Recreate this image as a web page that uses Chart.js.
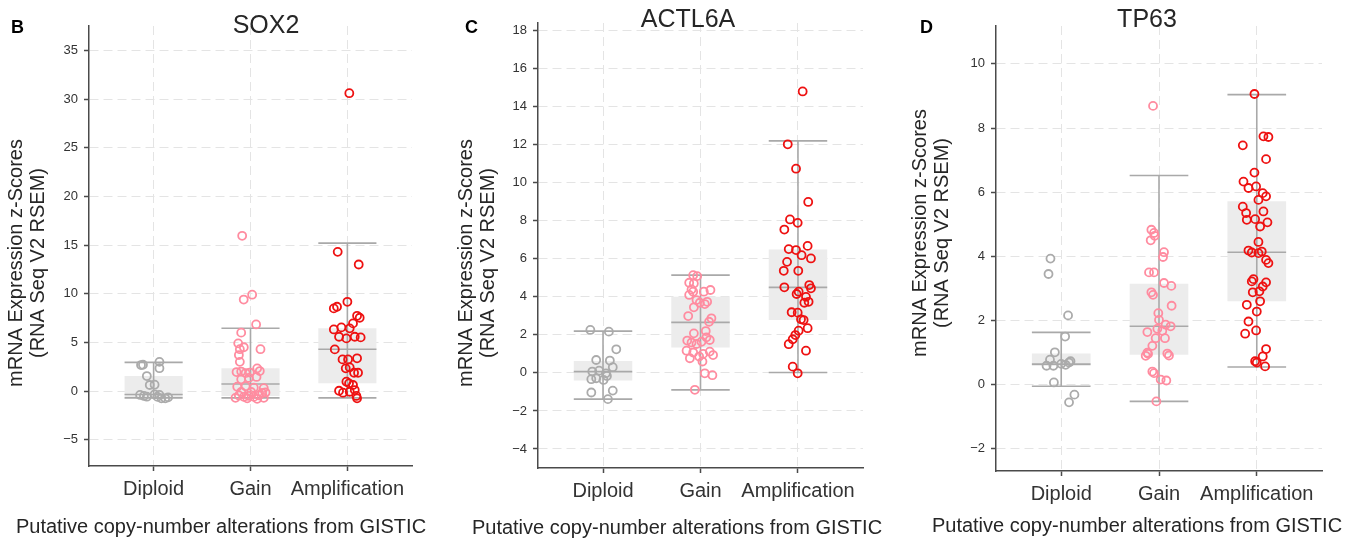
<!DOCTYPE html>
<html>
<head>
<meta charset="utf-8">
<script src="https://cdn.jsdelivr.net/npm/chart.js@4.4.1/dist/chart.umd.min.js"></script>
<style>
  html, body { margin: 0; padding: 0; background: #fff; }
  #wrap { position: relative; width: 1349px; height: 538px; overflow: hidden; }
  .panel { position: absolute; top: 0; height: 538px; }
</style>
</head>
<body>
<div id="wrap">
  <div class="panel" style="left:0;width:450px"><canvas id="chartB" width="450" height="538"></canvas></div>
  <div class="panel" style="left:450px;width:450px"><canvas id="chartC" width="450" height="538"></canvas></div>
  <div class="panel" style="left:900px;width:449px"><canvas id="chartD" width="449" height="538"></canvas></div>
</div>
<script>
// ============================================================
// mRNA z-scores by GISTIC copy-number group — three box plots
// ============================================================

const CATEGORIES = ["Diploid", "Gain", "Amplification"];
const Y_TITLE = ["mRNA Expression z-Scores", "(RNA Seq V2 RSEM)"];
const X_TITLE = "Putative copy-number alterations from GISTIC";

// ---------- SOX2 ----------
const SOX2_TICKS = [-5, 0, 5, 10, 15, 20, 25, 30, 35];
const SOX2_LOW = [-0.7, -0.7, -0.7];
const SOX2_Q1 = [-0.6, -0.5, 0.79];
const SOX2_MED = [-0.35, 0.72, 4.3];
const SOX2_Q3 = [1.54, 2.33, 6.45];
const SOX2_HIGH = [2.95, 6.45, 15.2];
// [jitter, z-score]
const SOX2_DIPLOID = [
  [-0.13, 2.67], [-0.11, 2.7], [0.06, 3.0], [0.06, 2.35], [-0.07, 1.54], [-0.04, 0.62], [0.01, 0.65],
  [-0.14, -0.4], [-0.1, -0.5], [-0.07, -0.58], [0.01, -0.34], [0.06, -0.4], [0.08, -0.75],
  [0.12, -0.75], [0.15, -0.65], [0.04, -0.6]
];
const SOX2_GAIN = [
  [-0.086, 15.95], [-0.07, 9.4], [0.017, 9.9], [0.058, 6.84], [-0.096, 6.0], [-0.127, 4.9], [-0.069, 4.5],
  [-0.11, 4.3], [0.103, 4.3], [-0.12, 3.7], [-0.11, 3.0], [0.069, 2.33], [0.096, 2.05], [-0.144, 1.95],
  [-0.096, 2.0], [-0.05, 1.85], [-0.007, 1.9], [-0.017, 1.35], [0.062, 1.45], [-0.096, 1.2],
  [-0.137, 0.45], [-0.05, 0.5], [0.034, 0.35], [0.137, 0.3], [-0.096, -0.1], [0.007, -0.1],
  [0.12, -0.2], [0.155, -0.15], [-0.12, -0.45], [-0.069, -0.6], [-0.017, -0.5], [0.034, -0.6],
  [0.086, -0.45], [0.137, -0.7], [-0.155, -0.7], [-0.034, -0.75], [0.069, -0.8]
];
const SOX2_AMP = [
  [0.02, 30.6], [-0.1, 14.3], [0.117, 13.0], [0, 9.17], [-0.14, 8.49], [-0.107, 8.66], [0.1, 7.73],
  [0.127, 7.53], [0.058, 6.95], [-0.14, 6.33], [-0.062, 6.54], [0.024, 6.44], [-0.086, 5.58],
  [-0.01, 5.41], [0.076, 5.58], [0.137, 5.51], [-0.13, 4.28], [-0.05, 3.25], [0.007, 3.25],
  [0.1, 3.36], [-0.017, 2.33], [0.024, 2.43], [0.069, 1.88], [0.11, 1.88], [-0.01, 0.96],
  [0.017, 0.79], [0.058, 0.62], [-0.086, 0.03], [-0.045, -0.17], [0.024, -0.07], [0.076, 0.1],
  [0.093, -0.5], [0.1, -0.75]
];

// ---------- ACTL6A ----------
const ACTL6A_TICKS = [-4, -2, 0, 2, 4, 6, 8, 10, 12, 14, 16, 18];
const ACTL6A_LOW = [-1.38, -0.89, 0.02];
const ACTL6A_Q1 = [-0.4, 1.33, 2.78];
const ACTL6A_MED = [0.07, 2.66, 4.5];
const ACTL6A_Q3 = [0.63, 4.0, 6.49];
const ACTL6A_HIGH = [2.2, 5.14, 12.2];
const ACTL6A_DIPLOID = [
  [-0.13, 2.26], [0.06, 2.17], [0.136, 1.24], [-0.07, 0.68], [0.07, 0.65], [0.1, 0.3], [-0.11, 0.07],
  [-0.04, 0.12], [0.03, -0.02], [-0.12, -0.33], [-0.07, -0.28], [0.005, -0.37], [0.04, -0.16],
  [-0.12, -1.03], [0.1, -0.93], [0.05, -1.38]
];
const ACTL6A_GAIN = [
  [-0.075, 5.14], [-0.034, 5.09], [-0.116, 4.74], [-0.068, 4.7], [-0.092, 4.39], [-0.075, 4.27],
  [-0.116, 4.1], [0.034, 4.27], [0.102, 4.36], [-0.041, 3.83], [-0.007, 3.69], [0.068, 3.74],
  [0.044, 3.62], [-0.068, 3.45], [-0.126, 2.99], [0.112, 2.87], [0.088, 2.69], [0.054, 2.2],
  [-0.068, 2.08], [0.061, 1.87], [0.095, 1.73], [-0.136, 1.7], [-0.092, 1.6], [-0.041, 1.52],
  [0.01, 1.64], [-0.143, 1.17], [-0.075, 1.07], [0.027, 1.0], [0.095, 1.12], [0.129, 0.94],
  [-0.109, 0.77], [-0.014, 0.86], [0.02, 0.6], [0.044, -0.02], [0.122, -0.12], [-0.058, -0.89]
];
const ACTL6A_AMP = [
  [0.048, 14.8], [-0.105, 12.02], [-0.02, 10.74], [0.105, 8.99], [-0.082, 8.07], [-0.003, 7.89],
  [-0.14, 7.54], [0.099, 6.68], [-0.095, 6.51], [-0.02, 6.46], [0.037, 6.19], [0.133, 6.02],
  [-0.112, 5.84], [-0.146, 5.37], [0.003, 5.37], [-0.14, 4.5], [0.116, 4.62], [0.133, 4.45],
  [0.007, 4.27], [-0.014, 4.15], [0.082, 4.0], [0.065, 3.69], [0.109, 3.74], [-0.065, 3.19],
  [-0.003, 3.17], [0.031, 2.82], [0.058, 2.78], [0.099, 2.35], [0.007, 2.22], [-0.027, 1.99],
  [-0.054, 1.77], [-0.095, 1.51], [0.082, 1.17], [-0.054, 0.33], [-0.003, -0.02]
];

// ---------- TP63 ----------
const TP63_TICKS = [-2, 0, 2, 4, 6, 8, 10];
const TP63_LOW = [-0.05, -0.52, 0.55];
const TP63_Q1 = [0.58, 0.93, 2.6];
const TP63_MED = [0.64, 1.82, 4.13];
const TP63_Q3 = [0.97, 3.15, 5.72];
const TP63_HIGH = [1.63, 6.52, 9.04];
const TP63_DIPLOID = [
  [-0.11, 3.93], [-0.13, 3.45], [0.07, 2.16], [0.04, 1.5], [-0.065, 1.01], [-0.115, 0.78],
  [-0.15, 0.59], [-0.08, 0.59], [0, 0.65], [0.045, 0.62], [0.08, 0.69], [0.095, 0.73],
  [-0.075, 0.07], [0.135, -0.31], [0.08, -0.55]
];
const TP63_GAIN = [
  [-0.061, 8.69], [-0.078, 4.83], [-0.051, 4.73], [-0.085, 4.5], [-0.044, 4.64], [0.051, 4.13],
  [0.041, 3.98], [-0.102, 3.5], [-0.051, 3.5], [0.051, 3.17], [0.126, 3.08], [-0.078, 2.88],
  [-0.061, 2.8], [0.129, 2.46], [-0.007, 2.23], [0, 2.02], [-0.119, 1.64], [-0.017, 1.74],
  [0.068, 1.87], [0.119, 1.82], [0.034, 1.68], [-0.034, 1.45], [0.061, 1.45], [-0.068, 1.21],
  [-0.119, 1.0], [-0.136, 0.9], [-0.112, 0.96], [0.085, 0.97], [0.102, 0.91], [-0.068, 0.41],
  [-0.051, 0.36], [0.017, 0.16], [0.075, 0.13], [-0.027, -0.52]
];
const TP63_AMP = [
  [-0.024, 9.06], [-0.143, 7.46], [0.068, 7.74], [0.119, 7.72], [0.095, 7.03], [-0.024, 6.61],
  [-0.136, 6.33], [-0.085, 6.13], [-0.007, 6.18], [0.061, 5.97], [0.095, 5.87], [0.017, 5.76],
  [-0.143, 5.55], [-0.109, 5.35], [-0.102, 5.14], [-0.017, 5.16], [0.034, 4.93], [0.068, 5.4],
  [0.109, 5.06], [0.017, 4.45], [-0.085, 4.18], [-0.051, 4.12], [0.017, 4.1], [0.051, 4.15],
  [0.095, 3.89], [0.119, 3.79], [-0.034, 3.29], [-0.051, 3.22], [0.095, 3.19], [0.061, 3.06],
  [-0.041, 2.88], [0.027, 2.91], [0.034, 2.6], [-0.102, 2.49], [0, 2.28], [-0.085, 1.97],
  [-0.007, 1.69], [-0.119, 1.59], [0.095, 1.11], [0.061, 0.88], [-0.017, 0.73], [0.085, 0.57],
  [0, 0.69]
];

// ---------- Styling ----------
const FONT = '"Liberation Sans", Arial, sans-serif';
const POINT_COLORS = ["#ababab", "#ff8ca0", "#ee1111"];
const BOX_FILL = "#ececec";
const WHISKER = "#a9a9a9";
const AXIS = "#4a4a4a";
const GRID = "#e4e4e4";
const BOX_HALF = 0.3; // half box width in category units

Chart.defaults.font.family = FONT;

function panelText(p) {
  return {
    id: "panelText",
    afterDraw(chart) {
      const ctx = chart.ctx;
      ctx.save();
      ctx.fillStyle = "#000";
      ctx.textAlign = "left";
      ctx.textBaseline = "alphabetic";
      ctx.font = "bold 18px " + FONT;
      ctx.fillText(p.letter, p.letterX, 33);

      ctx.fillStyle = "#262626";
      ctx.textAlign = "center";
      ctx.font = "25px " + FONT;
      ctx.fillText(p.title, p.titleX, p.titleY);

      ctx.font = "20px " + FONT;
      ctx.textBaseline = "middle";
      ctx.fillText(X_TITLE, p.xTitleX, p.xTitleY);
      Y_TITLE.forEach((line, k) => {
        ctx.save();
        ctx.translate(p.yTitleX[k], p.yTitleY);
        ctx.rotate(-Math.PI / 2);
        ctx.fillText(line, 0, 0);
        ctx.restore();
      });
      ctx.restore();
    }
  };
}

function whiskerSegments(low, q1, med, q3, high) {
  const pts = [];
  CATEGORIES.forEach((c, i) => {
    pts.push({ x: i - BOX_HALF, y: high[i] }, { x: i + BOX_HALF, y: high[i] }, { x: i, y: null });
    pts.push({ x: i, y: high[i] }, { x: i, y: low[i] }, { x: i, y: null });
    pts.push({ x: i - BOX_HALF, y: low[i] }, { x: i + BOX_HALF, y: low[i] }, { x: i, y: null });
    pts.push({ x: i - BOX_HALF, y: med[i] }, { x: i + BOX_HALF, y: med[i] }, { x: i, y: null });
  });
  return pts;
}

function makePanel(canvasId, p) {
  const groups = [p.diploid, p.gain, p.amp];
  const pointSets = groups.map((g, i) => ({
    type: "scatter",
    label: CATEGORIES[i],
    data: g.map(([dx, v]) => ({ x: i + dx, y: v })),
    pointRadius: 4,
    pointHoverRadius: 4,
    pointBorderWidth: 1.8,
    pointBorderColor: POINT_COLORS[i],
    pointBackgroundColor: "rgba(0,0,0,0)",
    order: 0
  }));

  new Chart(document.getElementById(canvasId), {
    type: "scatter",
    data: {
      datasets: [
        ...pointSets,
        {
          type: "line",
          data: whiskerSegments(p.low, p.q1, p.med, p.q3, p.high),
          borderColor: WHISKER,
          borderWidth: 1.6,
          pointRadius: 0,
          spanGaps: false,
          fill: false,
          order: 1
        },
        {
          type: "bar",
          data: CATEGORIES.map((c, i) => ({ x: i, y: [p.q1[i], p.q3[i]] })),
          backgroundColor: BOX_FILL,
          borderWidth: 0,
          categoryPercentage: 1,
          barPercentage: BOX_HALF * 2,
          order: 2
        }
      ]
    },
    options: {
      responsive: false,
      animation: false,
      layout: { padding: p.pad },
      plugins: { legend: { display: false }, tooltip: { enabled: false } },
      scales: {
        x: {
          type: "linear",
          min: -0.667,
          max: 2.667,
          offset: false,
          afterBuildTicks: s => { s.ticks = CATEGORIES.map((c, i) => ({ value: i })); },
          afterFit: s => { s.height = p.xH; },
          ticks: {
            callback: v => CATEGORIES[v],
            color: "#333",
            font: { size: 20 },
            padding: 6,
            maxRotation: 0,
            autoSkip: false
          },
          grid: { offset: false, color: GRID, lineWidth: 1, tickLength: 5, tickColor: AXIS, tickWidth: 1.5 },
          border: { display: true, color: AXIS, width: 1.5, dash: [9, 5] }
        },
        y: {
          type: "linear",
          min: p.yMin,
          max: p.yMax,
          afterBuildTicks: s => { s.ticks = p.ticks.map(v => ({ value: v })); },
          afterFit: s => { s.width = p.yW; },
          ticks: {
            callback: v => String(v).replace("-", "\u2212"),
            color: "#333",
            font: { size: 13 },
            padding: 6
          },
          grid: { color: GRID, lineWidth: 1, tickLength: 5, tickColor: AXIS, tickWidth: 1.5 },
          border: { display: true, color: AXIS, width: 1.5, dash: [9, 5] }
        }
      }
    },
    plugins: [panelText(p)]
  });
}

// ---------- Init ----------
makePanel("chartB", {
  letter: "B", letterX: 11, title: "SOX2", titleX: 266, titleY: 33,
  yTitleX: [16, 38], yTitleY: 263, xTitleX: 221, xTitleY: 527,
  pad: { left: 0, right: 38, top: 26, bottom: 0 }, yW: 89, xH: 72,
  yMin: -7.7, yMax: 37.5, ticks: SOX2_TICKS,
  low: SOX2_LOW, q1: SOX2_Q1, med: SOX2_MED, q3: SOX2_Q3, high: SOX2_HIGH,
  diploid: SOX2_DIPLOID, gain: SOX2_GAIN, amp: SOX2_AMP
});

makePanel("chartC", {
  letter: "C", letterX: 15, title: "ACTL6A", titleX: 238, titleY: 27,
  yTitleX: [16, 38], yTitleY: 263, xTitleX: 227, xTitleY: 528,
  pad: { left: 0, right: 37, top: 23, bottom: 0 }, yW: 88, xH: 70,
  yMin: -5.0, yMax: 18.4, ticks: ACTL6A_TICKS,
  low: ACTL6A_LOW, q1: ACTL6A_Q1, med: ACTL6A_MED, q3: ACTL6A_Q3, high: ACTL6A_HIGH,
  diploid: ACTL6A_DIPLOID, gain: ACTL6A_GAIN, amp: ACTL6A_AMP
});

makePanel("chartD", {
  letter: "D", letterX: 20, title: "TP63", titleX: 247, titleY: 27,
  yTitleX: [20, 42], yTitleY: 233, xTitleX: 237, xTitleY: 526,
  pad: { left: 0, right: 27, top: 26, bottom: 0 }, yW: 96, xH: 67,
  yMin: -2.69, yMax: 11.18, ticks: TP63_TICKS,
  low: TP63_LOW, q1: TP63_Q1, med: TP63_MED, q3: TP63_Q3, high: TP63_HIGH,
  diploid: TP63_DIPLOID, gain: TP63_GAIN, amp: TP63_AMP
});
</script>
</body>
</html>
